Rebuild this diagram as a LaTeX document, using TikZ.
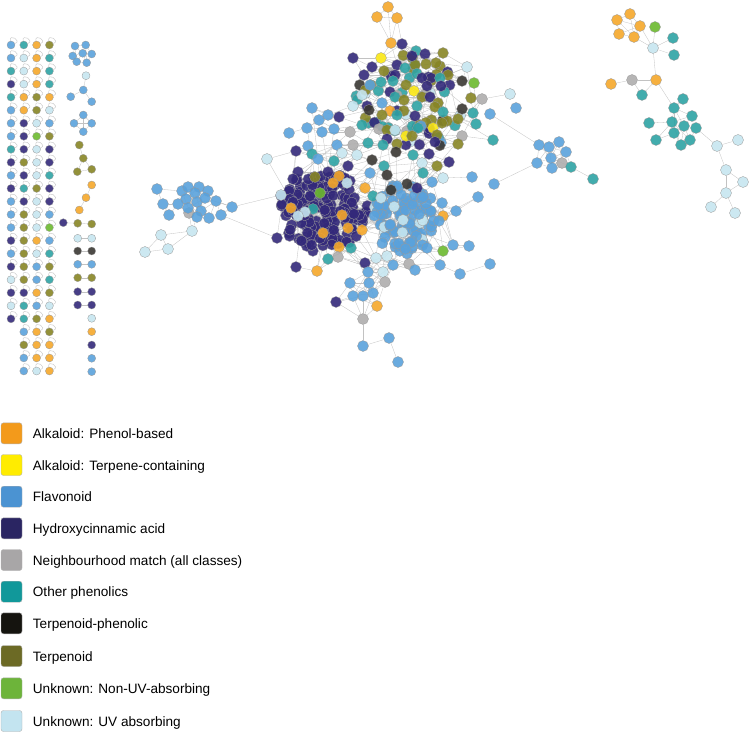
\documentclass[tikz,border=0pt]{standalone}
\usepackage{fontspec}
\setmainfont{Liberation Sans}
\usetikzlibrary{positioning}

\pgfdeclarelayer{edges}
\pgfsetlayers{edges,main}

% node fills
\definecolor{colA}{HTML}{F5A72A}
\definecolor{colY}{HTML}{FAE714}
\definecolor{colF}{HTML}{5AA2DC}
\definecolor{colH}{HTML}{33297A}
\definecolor{colG}{HTML}{AEADAD}
\definecolor{colO}{HTML}{2EA3A4}
\definecolor{colK}{HTML}{3A3733}
\definecolor{colT}{HTML}{878525}
\definecolor{colN}{HTML}{6CB92F}
\definecolor{colU}{HTML}{C6E6F0}
% legend fills
\definecolor{keyA}{HTML}{F39A1B}
\definecolor{keyY}{HTML}{FFEC00}
\definecolor{keyF}{HTML}{4B93D2}
\definecolor{keyH}{HTML}{2A2562}
\definecolor{keyG}{HTML}{A8A6A7}
\definecolor{keyO}{HTML}{11989A}
\definecolor{keyK}{HTML}{15140F}
\definecolor{keyT}{HTML}{6C6A25}
\definecolor{keyN}{HTML}{6DB43A}
\definecolor{keyU}{HTML}{C3E4F0}

\def\nomol{X}
% draw a link only when the two nodes sit close together
\newcommand{\linkifnear}[3]{%
  \pgfpointdiff{\pgfpointanchor{#1}{center}}{\pgfpointanchor{#2}{center}}%
  \pgfgetlastxy{\ddx}{\ddy}%
  \pgfmathtruncatemacro{\isnear}{veclen(\ddx,\ddy)<#3}%
  \ifnum\isnear=1 \draw[link] (#1) -- (#2);\fi}

\begin{document}
\begin{tikzpicture}[x=1pt, y=-1pt,
   mol/.style={circle, draw=black!40, line width=0.3pt, fill=col#1,
      fill opacity=0.9, minimum size=11pt, inner sep=0pt},
   smol/.style={mol=#1, minimum size=8pt},
   link/.style={draw=black!24, line width=0.3pt},
   selfloop/.style={draw=black!20, line width=0.5pt, out=100, in=20,
      min distance=8pt},
   keybox/.style={draw=black!30, line width=0.4pt, rounded corners=2.5pt,
      minimum size=21pt, inner sep=0pt, fill=key#1},
   keytext/.style={anchor=base west, inner sep=0pt,
      font=\fontsize{13.6pt}{16pt}\selectfont}
]
\useasboundingbox (0,0) rectangle (750,733);
\pgfmathsetseed{11}
\pgfmathdeclarerandomlist{flavkinds}{{F}{F}{F}{F}{F}{F}{F}{F}{F}{U}}
\pgfmathdeclarerandomlist{upperkinds}{{T}{T}{O}{O}{H}{H}{H}{K}{F}{U}{G}{T}{O}{H}}

% lone molecules with self-loops
\foreach \cols [count=\r] in {{F,O,A,T},{F,U,A,O},{O,U,A,O},{H,U,A,O},
   {O,A,T,A},{F,A,T,U},{F,H,U,F},{F,H,N,T},{O,H,U,H},{H,T,U,H},{F,H,U,O},
   {H,O,T,H},{F,H,U,H},{F,T,U,F},{F,T,U,N},{H,T,A,F},{F,T,U,O},{H,T,F,T},
   {U,T,F,O},{H,H,A,T},{U,O,F,U},{H,O,T,A},{X,F,A,T},{X,T,A,A},{X,F,A,A},
   {X,F,U,A}}{
  \foreach \c [count=\q] in \cols {
    \ifx\c\nomol\else
      \node[smol=\c] (g\r-\q) at ({11+12.8*(\q-1)}, {45+13.04*(\r-1)}) {};
      \begin{pgfonlayer}{edges}
        \draw[selfloop] (g\r-\q) to (g\r-\q);
      \end{pgfonlayer}
    \fi
  }
}

% small components
\foreach \n/\x/\y/\c in {s1/75/46/F, s2/85.7/45/F, s3/72.7/56/F, s4/82.7/53.3/F,
   s5/91.7/54/F, s6/76.7/61.7/F, s7/86.7/62.7/F,
   v1/86/75.7/U, v2/83.3/90/F, v3/70.7/96.7/F, v4/91.7/101.7/F,
   d1/83.3/115/F, d2/74/123.3/F, d3/91.7/123.3/F, d4/83.3/131.7/F,
   t1/79.3/145/T, t2/83.3/158.3/T, t3/77.3/171.7/T, t4/91.7/169.3/T,
   a1/91.7/185/A, a2/86/197.7/A, a3/79.3/210/A,
   h1/63.3/222.7/H, h2/77.7/223.3/T, h3/91.7/224/T,
   e1/77.7/238.3/U, e2/91.7/238.3/U, e3/77.7/251/K, e4/91.7/251/K,
   e5/77.7/264.3/F, e6/91.7/264.3/F, e7/77.7/277.7/T, e8/91.7/277.7/T,
   e9/77.7/291.7/H, e10/91.7/291.7/H, e11/77.7/305/H, e12/91.7/305/H,
   o1/91.7/318.3/U, o2/91.7/331.7/A, o3/91.7/345/H, o4/91.7/358.3/F,
   o5/91.7/371.7/F}
  \node[smol=\c] (\n) at (\x,\y) {};

% left flavonoid cluster
\foreach \x/\y/\c [count=\i] in {157/189/F, 163/204/F, 169/215/F, 182/191/F,
   188/187/F, 199/187/F, 208/191/F, 195/193/F, 186/199/F, 178/204/F,
   197/202/F, 205/198/F, 216/201/F, 189/213/G, 188/208/F, 201/211/F,
   197/217/F, 209/218/F, 221/215/F, 232/207/F, 192/231/U, 161/235/U,
   168/249/U, 145/252/U}
  \node[mol=\c] (p\i) at (\x,\y) {};

% right flavonoid cluster
\foreach \x/\y/\c [count=\i] in {539/145/F, 549/147/F, 559/142/F, 566/152/F,
   551/158/F, 537/163/F, 562/163/G, 552/168/F, 571/167/O, 593/179/O}
  \node[mol=\c] (q\i) at (\x,\y) {};

% top right component
\foreach \n/\x/\y/\c in {ra1/617/20/A, ra2/630/14/A, ra3/640/26/A,
   ra4/619/34/A, ra5/634/37/A, rn/655/27/N, ru/653/48/U, ro1/673/38/O,
   ro2/674/55/O, ra6/656/80/A, rg/632/80/G, ra7/611/84/A, ro3/642/95/O,
   rt1/683/99/O, rt2/674/108/O, rt3/692/116/O, rt4/649/123/O,
   rt5/672/122/O, rt6/684/126/O, rt7/696/128/O, rt8/674/133/O,
   rt9/656/140/O, rt10/690/140/O, rt11/681/145/O, ru1/717/146/U,
   ru2/738/140/U, ru3/726/170/U, ru4/743/182/U, ru5/726/193/U,
   ru6/711/207/U, ru7/735/213/U}
  \node[mol=\c] (\n) at (\x,\y) {};

% main component: hydroxycinnamic core
\foreach \i in {1,...,160}{
  \pgfmathsetmacro\ang{360*rnd}
  \pgfmathsetmacro\rad{sqrt(rnd)}
  \node[mol=H] (k\i) at ({322+47*\rad*cos(\ang)}, {212+40*\rad*sin(\ang)}) {};
}
% flavonoid core
\foreach \i in {161,...,260}{
  \pgfmathsetmacro\ang{360*rnd}
  \pgfmathsetmacro\rad{sqrt(rnd)}
  \pgfmathrandomitem{\cc}{flavkinds}
  \node[mol=\cc] (k\i) at ({404+31*\rad*cos(\ang)}, {217+37*\rad*sin(\ang)}) {};
}
% upper mixed part
\foreach \i in {261,...,320}{
  \pgfmathsetmacro\ang{360*rnd}
  \pgfmathsetmacro\rad{sqrt(rnd)}
  \pgfmathrandomitem{\cc}{upperkinds}
  \node[mol=\cc] (k\i) at ({408+55*\rad*cos(\ang)}, {105+50*\rad*sin(\ang)}) {};
}
% placed members
\foreach \x/\y/\c [count=\n from 321] in {388/7/A, 377/17/A, 397/18/A,
   391/43/A, 402/44/H, 416/51/O, 443/53/T, 425/54/H, 412/56/H, 381/58/Y,
   353/58/H, 436/63/T, 426/64/T, 397/65/H, 372/67/H, 467/67/U, 405/68/O,
   384/71/T, 448/75/T, 364/75/H, 395/75/H, 431/78/H, 440/78/O, 422/78/H,
   462/81/K, 393/81/O, 381/82/O, 474/83/N, 370/85/F, 406/85/T, 427/86/H,
   441/86/H, 414/91/Y, 390/92/H, 510/94/U, 362/95/U, 395/97/O, 422/97/T,
   430/97/H, 471/98/T, 482/99/G, 404/100/T,
   382/103/F, 438/103/T, 417/106/O, 353/106/U, 435/107/T, 516/108/F,
   312/108/F, 369/110/K, 390/111/A, 443/112/O, 473/113/O, 382/115/T,
   397/115/O, 328/115/F, 415/116/H, 339/117/H, 458/119/T, 319/120/F,
   442/123/T, 476/124/O, 362/125/O, 421/126/F, 418/128/O, 307/128/F,
   433/128/Y, 379/129/G, 334/129/F, 387/130/T, 395/130/U, 350/132/G,
   322/132/F, 289/133/F, 437/135/T, 406/136/Y, 412/136/T, 462/136/G,
   387/139/H, 493/140/O,
   435/142/H, 368/143/O, 397/144/T, 458/144/T, 353/145/G, 383/145/O,
   337/145/F, 308/146/F, 296/151/H, 396/152/K, 342/153/U, 429/154/H,
   312/154/O, 413/155/O, 357/155/U, 267/159/U, 318/159/F,
   372/160/K, 334/161/O, 449/162/H, 422/163/U, 348/166/H, 384/166/O,
   437/166/T, 298/172/H, 293/179/H, 328/172/H, 423/173/O, 387/175/K,
   370/173/F, 339/176/A, 315/177/T, 472/177/F, 443/178/U,
   432/182/F, 333/183/A, 347/183/U, 407/184/K, 397/186/F, 417/188/H,
   365/188/A, 391/190/K, 320/193/N, 373/196/O, 478/197/F, 423/197/F,
   381/198/U,
   442/203/F, 291/208/A, 313/209/O, 305/212/U, 456/211/F, 342/215/A,
   298/216/U, 443/216/A, 403/220/U, 439/221/F, 348/228/A, 362/230/A,
   323/233/A, 453/245/F, 469/246/F, 339/247/A, 351/248/O, 427/248/F,
   443/251/N, 387/256/U, 338/257/G, 376/258/U, 328/259/O,
   409/264/G, 365/263/H, 490/264/F, 393/265/F, 440/265/F, 296/267/H,
   415/270/F, 317/271/A, 368/272/F, 383/272/U, 460/274/F, 385/282/G,
   350/283/F, 369/283/F, 373/293/F, 363/296/F, 353/296/F,
   336/302/H, 377/306/A, 363/319/G, 389/338/F, 363/346/F, 398/362/F}{
  \node[mol=\c] (k\n) at (\x,\y) {};
  \xdef\lastk{\n}
}
% members that reach other clusters
\foreach \x/\y/\c/\h [count=\n] in {281/195/U/A, 277/238/H/B, 490/114/F/C,
   494/184/F/D}{
  \pgfmathtruncatemacro\k{\lastk+\n}
  \node[mol=\c, alias=k\k] (hub\h) at (\x,\y) {};
  \xdef\ncore{\k}
}

\begin{pgfonlayer}{edges}
  \foreach \i in {1,...,\ncore}{
    \foreach \t in {1,...,7}{
      \pgfmathrandominteger{\j}{1}{\ncore}
      \ifnum\i=\j\else\linkifnear{k\i}{k\j}{52}\fi
    }
  }
  \foreach \i in {321,...,\lastk}{
    \foreach \d in {1,...,10}{
      \pgfmathtruncatemacro\j{\i+\d}
      \ifnum\j>\ncore\else\linkifnear{k\i}{k\j}{32}\fi
    }
  }
  \foreach \i in {1,...,24}{
    \foreach \j in {\i,...,24}{
      \ifnum\i<\j\linkifnear{p\i}{p\j}{20}\fi
    }
  }
  \foreach \i in {1,...,10}{
    \foreach \j in {\i,...,10}{
      \ifnum\i<\j\linkifnear{q\i}{q\j}{22}\fi
    }
  }
  \foreach \a/\b in {s1/s2, s1/s3, s1/s4, s2/s4, s2/s5, s3/s4, s3/s6, s4/s5,
     s4/s6, s4/s7, s5/s7, s6/s7, s1/s6, s2/s7, v1/v2, v2/v3, v2/v4, d1/d2,
     d1/d3, d2/d4, d3/d4, d1/d4, d2/d3, t1/t2, t2/t3, t2/t4, t3/t4, a1/a2,
     a2/a3, h1/h2, h2/h3, e1/e2, e3/e4, e5/e6, e7/e8, e9/e10, e11/e12,
     p1/p4, p20/p13, p20/p12, p21/p22, p21/p23, p22/p24, p23/p24,
     p20/hubA, p19/hubB, hubC/q1, hubD/q6, q9/q10,
     ra1/ra2, ra1/ra3, ra1/ra4, ra1/ra5, ra2/ra3, ra2/ra5, ra3/ra4, ra3/ra5,
     ra4/ra5, ra3/ru, ra5/ru, rn/ru, ro1/ru, ro2/ru, ru/ra6, ra6/rg, rg/ra7,
     rg/ro3, ra6/ro3, ra6/rt2, rt1/rt2, rt2/rt5, rt2/rt6, rt2/rt3, rt2/rt8,
     rt4/rt5, rt5/rt6, rt5/rt8, rt5/rt9, rt5/rt10, rt5/rt11, rt6/rt7,
     rt6/rt8, rt6/rt10, rt6/rt11, rt3/rt6, rt3/rt7, rt3/rt5, rt7/rt10,
     rt8/rt11, rt10/rt11, rt8/rt9, rt7/ru1, ru1/ru2, ru1/ru3, ru3/ru4,
     ru3/ru5, ru4/ru5, ru5/ru6, ru5/ru7}
    \draw[link] (\a) -- (\b);
\end{pgfonlayer}

% legend
\foreach \c/\yc/\t [count=\i] in {A/433.3/{Alkaloid: Phenol-based},
   Y/465/{Alkaloid: Terpene-containing}, F/496.7/{Flavonoid},
   H/528.3/{Hydroxycinnamic acid}, G/560/{Neighbourhood match (all classes)},
   O/591.7/{Other phenolics}, K/623.3/{Terpenoid-phenolic},
   T/656/{Terpenoid}, N/688.3/{Unknown: Non-UV-absorbing},
   U/721/{Unknown: UV absorbing}}{
  \node[keybox=\c] (key\i) at (11.5,\yc) {};
  \node[keytext] (lab\i) at ([xshift=10.5pt, yshift=-5.2pt]key\i.east) {\t};
}
\end{tikzpicture}
\end{document}
